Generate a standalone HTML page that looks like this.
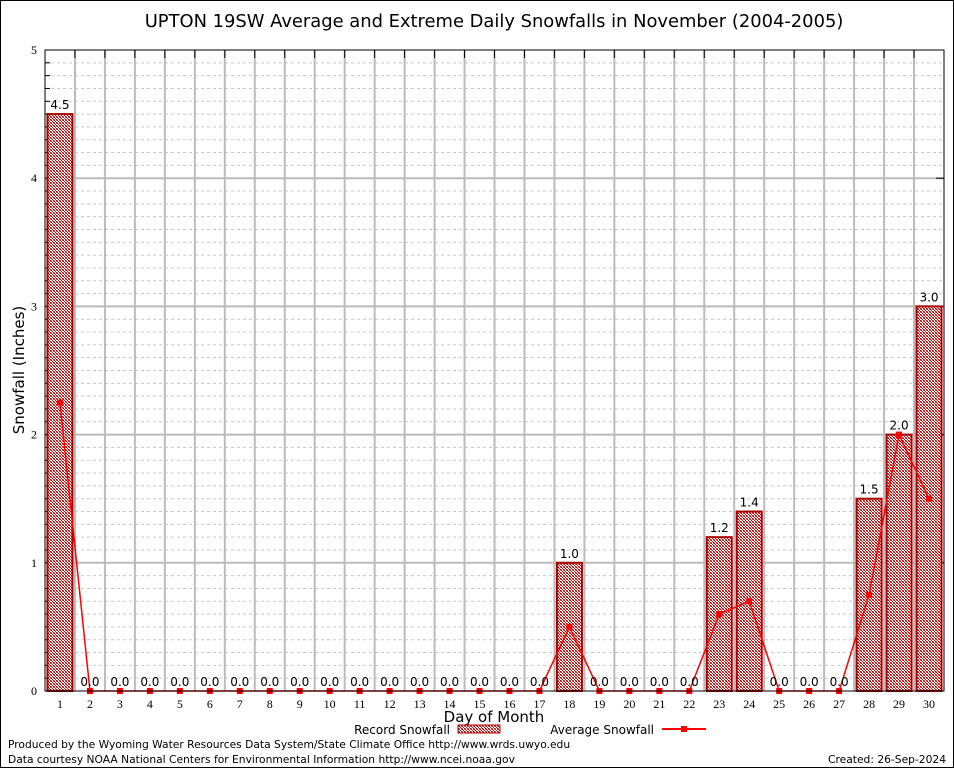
<!DOCTYPE html>
<html><head><meta charset="utf-8"><style>
body{margin:0;background:#fff;}
svg{display:block;font-family:"DejaVu Sans","Liberation Sans",sans-serif;}
</style></head><body>
<svg id="chart" width="954" height="768" viewBox="0 0 954 768">
<defs>
<pattern id="chk" width="3" height="3" patternUnits="userSpaceOnUse">
<rect width="3" height="3" fill="#fff"/>
<rect width="1" height="1" fill="#a00"/>
<rect x="1" y="1" width="1" height="1" fill="#b11"/>
<rect x="2" y="2" width="1" height="1" fill="#a00"/>
<rect x="2" y="0" width="1" height="1" fill="#d66"/>
<rect x="0" y="2" width="1" height="1" fill="#d66"/>
</pattern>
</defs>
<rect x="0.5" y="0.5" width="953" height="767" fill="#fff" stroke="#000"/>
<text x="494" y="27" text-anchor="middle" font-size="17.9">UPTON 19SW Average and Extreme Daily Snowfalls in November (2004-2005)</text>
<g id="grid"></g>
<g id="bars"></g>
<g id="avg"></g>
<g id="labels"></g>
<rect x="45" y="50" width="899" height="641" fill="none" stroke="#000"/>
<text x="24" y="370" transform="rotate(-90 24 370)" text-anchor="middle" font-size="15">Snowfall (Inches)</text>
<text x="494" y="722" text-anchor="middle" font-size="15">Day of Month</text>
<g>
<text x="450" y="734" text-anchor="end" font-size="12">Record Snowfall</text>
<rect x="458" y="725" width="42" height="8" fill="url(#chk)" stroke="#a00"/>
<text x="654" y="734" text-anchor="end" font-size="12">Average Snowfall</text>
<line x1="662" y1="729" x2="706" y2="729" stroke="red" stroke-width="2"/>
<rect x="681" y="726" width="6" height="6" fill="red"/>
</g>
<text x="8" y="748" font-size="10.7">Produced by the Wyoming Water Resources Data System/State Climate Office http://www.wrds.uwyo.edu</text>
<text x="8" y="763" font-size="10.7">Data courtesy NOAA National Centers for Environmental Information http://www.ncei.noaa.gov</text>
<text x="946" y="763" text-anchor="end" font-size="10.7">Created: 26-Sep-2024</text>
</svg>
<script>
const days=[1,2,3,4,5,6,7,8,9,10,11,12,13,14,15,16,17,18,19,20,21,22,23,24,25,26,27,28,29,30];
const recordValues=[4.5,0,0,0,0,0,0,0,0,0,0,0,0,0,0,0,0,1.0,0,0,0,0,1.2,1.4,0,0,0,1.5,2.0,3.0];
const averageValues=[2.25,0,0,0,0,0,0,0,0,0,0,0,0,0,0,0,0,0.5,0,0,0,0,0.6,0.7,0,0,0,0.75,2.0,1.5];
const yTicks=[0,1,2,3,4,5];
const NS="http://www.w3.org/2000/svg";
const L=45,R=944,T=50,B=691,ymax=5;
const slot=(R-L)/days.length;
const xc=d=>L+(d-0.5)*slot;
const y=v=>B-(v/ymax)*(B-T);
function mk(tag,attrs,parent,text){const e=document.createElementNS(NS,tag);for(const k in attrs)e.setAttribute(k,attrs[k]);if(text!==undefined)e.textContent=text;parent.appendChild(e);return e;}
const grid=document.getElementById('grid'),bars=document.getElementById('bars'),avg=document.getElementById('avg'),labels=document.getElementById('labels');
for(let i=1;i<ymax*10;i++){if(i%10===0)continue;const yy=y(i/10);
const l=mk('line',{x1:L,x2:R,y1:yy,y2:yy,stroke:'#c8c8c8','stroke-dasharray':'3,3'},grid);


const t1=mk('line',{x1:L,x2:L+5,y1:yy,y2:yy,stroke:'#000'},grid);}
yTicks.forEach(v=>{const yy=y(v);
if(v>0&&v<ymax){const l=mk('line',{x1:L,x2:R,y1:yy,y2:yy,stroke:'#bbb','stroke-width':2},grid);}
const tk=mk('line',{x1:L,x2:L+10,y1:yy,y2:yy,stroke:'#000'},grid);
const tk2=mk('line',{x1:R-8,x2:R,y1:yy,y2:yy,stroke:'#000'},grid);
const t=mk('text',{x:37,y:yy+4,'text-anchor':'end','font-size':12,'font-family':'Liberation Serif, serif'},grid,String(v));
});
days.forEach((d,i)=>{
if(i>0){const xx=L+i*slot;const l=mk('line',{x1:xx,x2:xx,y1:T,y2:B,stroke:'#bbb','stroke-width':2},grid);
const tk=mk('line',{x1:xx,x2:xx,y1:T,y2:T+8,stroke:'#000'},grid);}
const t=mk('text',{x:xc(d),y:708,'text-anchor':'middle','font-size':12,'font-family':'Liberation Serif, serif'},grid,String(d));

const v=recordValues[i];
if(v>0){const b=mk('rect',{x:xc(d)-12.5,y:y(v),width:25,height:B-y(v),fill:'url(#chk)',stroke:'#a00','stroke-width':2},bars);
}
const lb=mk('text',{x:xc(d),y:y(v)-5,'text-anchor':'middle','font-size':12},labels,v.toFixed(1));

});
const pts=days.map((d,i)=>xc(d)+','+y(averageValues[i])).join(' ');
const pl=mk('polyline',{points:pts,fill:'none',stroke:'red','stroke-width':1.5},avg);

days.forEach((d,i)=>{const m=mk('rect',{x:xc(d)-3,y:y(averageValues[i])-3,width:6,height:6,fill:'red'},avg);
});
</script>
</body></html>
